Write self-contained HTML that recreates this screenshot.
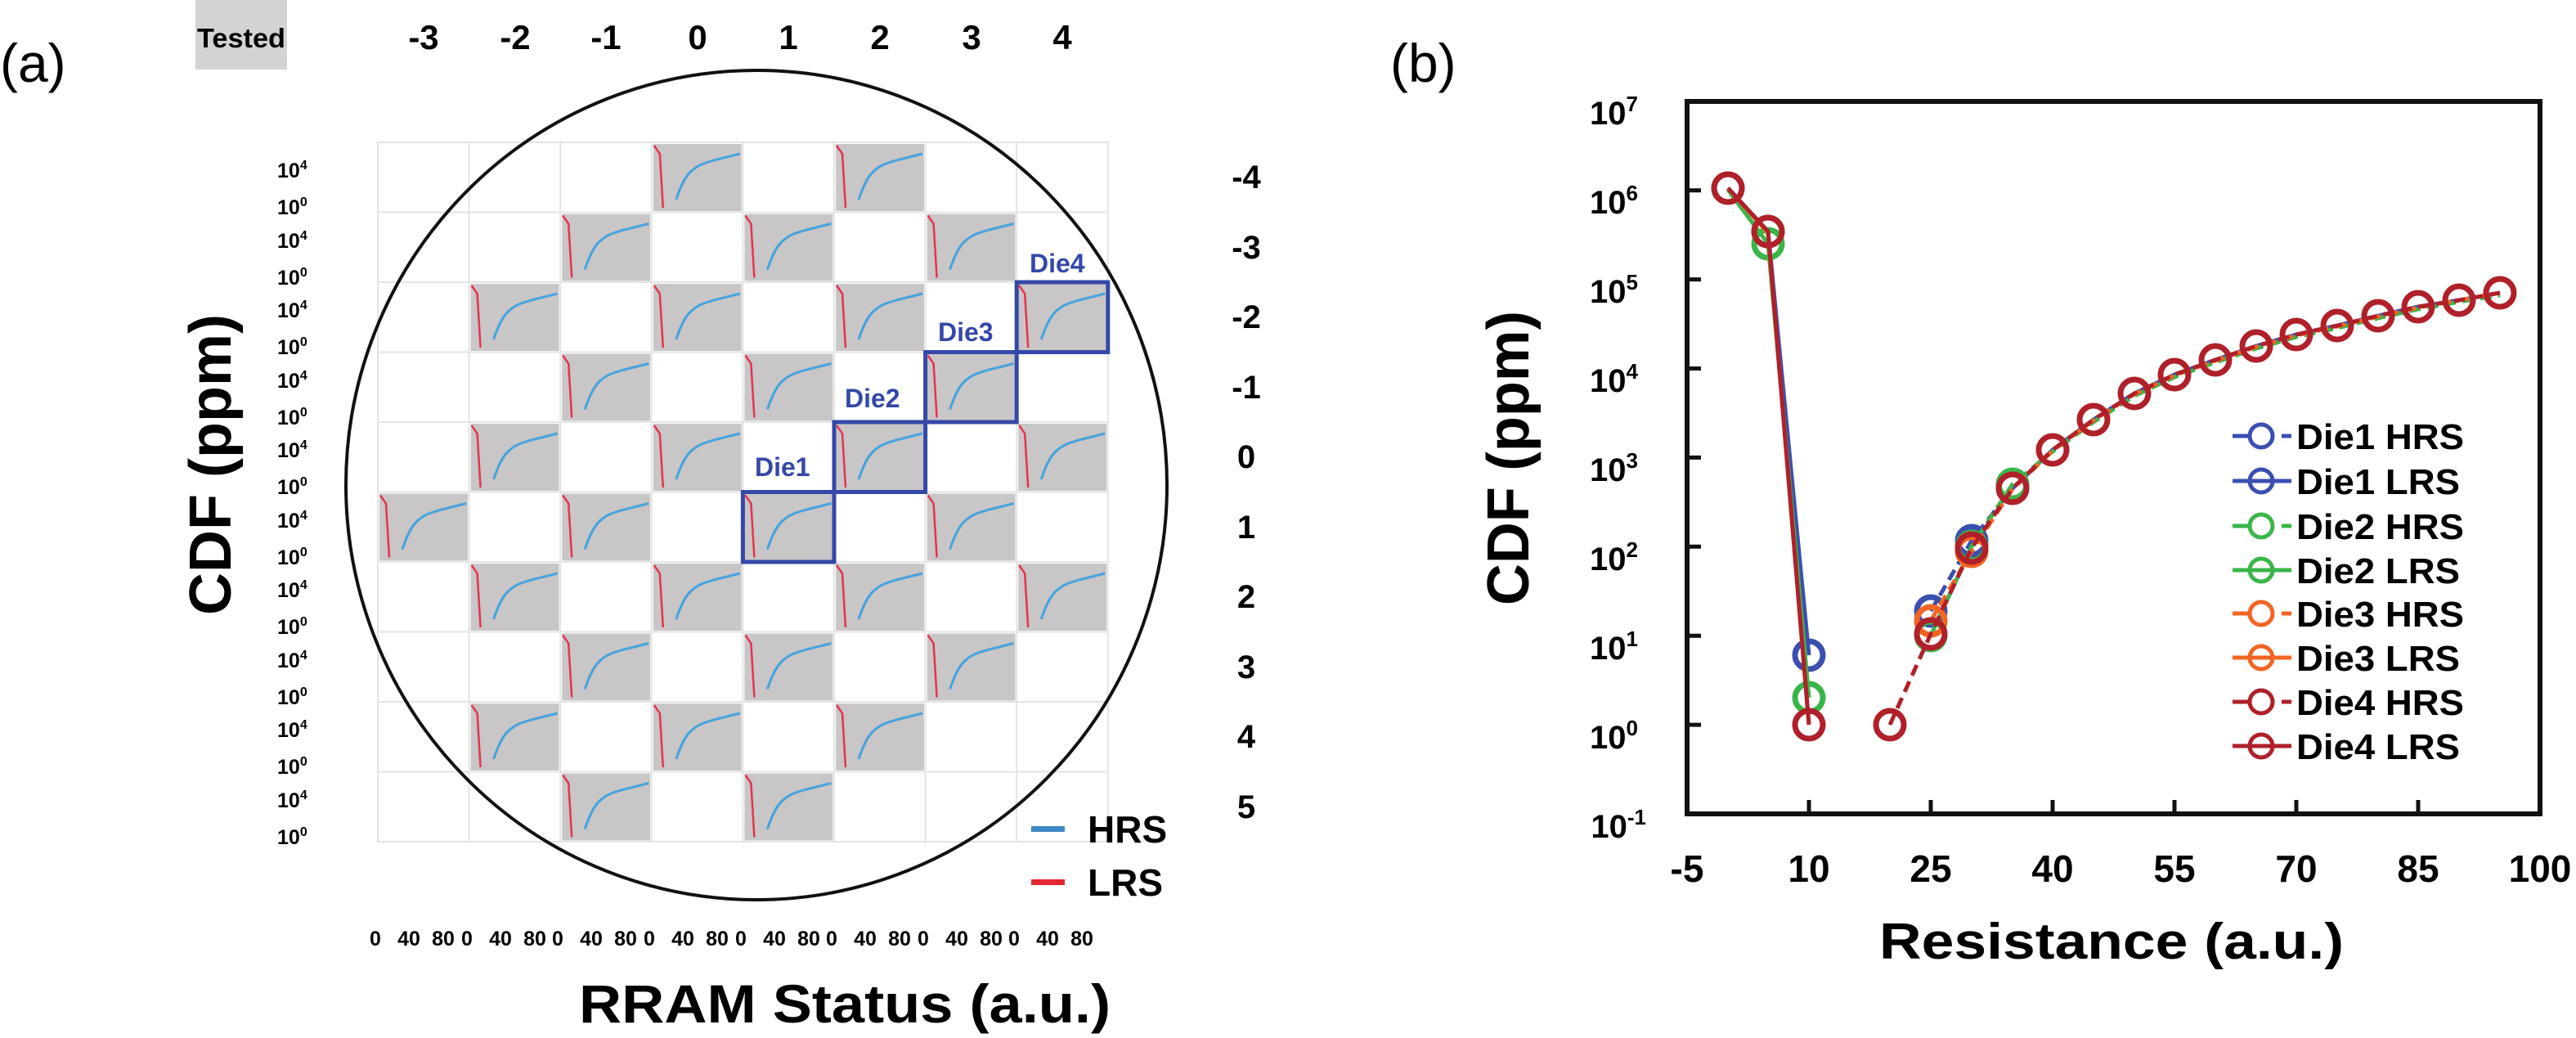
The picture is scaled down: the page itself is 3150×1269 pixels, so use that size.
<!DOCTYPE html>
<html><head><meta charset="utf-8"><style>
html,body{margin:0;padding:0;background:#fff;}
svg{display:block;font-family:"Liberation Sans",Arial,sans-serif;}
</style></head><body>
<svg width="3150" height="1269" viewBox="0 0 3150 1269" xmlns="http://www.w3.org/2000/svg">
<defs>
<g id="m">
<rect x="2" y="2" width="108" height="82" fill="#c8c6c7"/>
<polyline points="3,4 10,14 14,80" fill="none" stroke="#e5334f" stroke-width="2.5"/>
<path d="M30,70 C36,52 42,40 50,34 C58,27 66,25 76,22 L108,14" fill="none" stroke="#47a3dd" stroke-width="3"/>
</g>
</defs>

<text x="0" y="100" font-size="66">(a)</text>
<rect x="239" y="0" width="112" height="85" fill="#d3d3d3"/>
<text x="295" y="58" font-size="33" font-weight="bold" text-anchor="middle" textLength="108" lengthAdjust="spacingAndGlyphs">Tested</text>

<g font-size="42" font-weight="bold" text-anchor="middle">
<text x="518" y="60">-3</text><text x="630" y="60">-2</text><text x="741" y="60">-1</text><text x="853" y="60">0</text>
<text x="964" y="60">1</text><text x="1076" y="60">2</text><text x="1188" y="60">3</text><text x="1299" y="60">4</text>
</g>
<g font-size="40" font-weight="bold" text-anchor="middle">
<text x="1524" y="230">-4</text><text x="1524" y="316">-3</text><text x="1524" y="401">-2</text><text x="1524" y="487">-1</text>
<text x="1524" y="572">0</text><text x="1524" y="658">1</text><text x="1524" y="743">2</text><text x="1524" y="829">3</text>
<text x="1524" y="914">4</text><text x="1524" y="1000">5</text>
</g>

<g stroke="#e4e4e4" stroke-width="2" fill="none">
<rect x="462" y="174" width="892.8" height="855"/>
<line x1="573.6" y1="174" x2="573.6" y2="1029"/><line x1="685.2" y1="174" x2="685.2" y2="1029"/>
<line x1="796.8" y1="174" x2="796.8" y2="1029"/><line x1="908.4" y1="174" x2="908.4" y2="1029"/>
<line x1="1020" y1="174" x2="1020" y2="1029"/><line x1="1131.6" y1="174" x2="1131.6" y2="1029"/>
<line x1="1243.2" y1="174" x2="1243.2" y2="1029"/>
<line x1="462" y1="259.5" x2="1354.8" y2="259.5"/><line x1="462" y1="345" x2="1354.8" y2="345"/>
<line x1="462" y1="430.5" x2="1354.8" y2="430.5"/><line x1="462" y1="516" x2="1354.8" y2="516"/>
<line x1="462" y1="601.5" x2="1354.8" y2="601.5"/><line x1="462" y1="687" x2="1354.8" y2="687"/>
<line x1="462" y1="772.5" x2="1354.8" y2="772.5"/><line x1="462" y1="858" x2="1354.8" y2="858"/>
<line x1="462" y1="943.5" x2="1354.8" y2="943.5"/>
</g>
<use href="#m" x="796.8" y="174"/><use href="#m" x="1020" y="174"/>
<use href="#m" x="685.2" y="259.5"/><use href="#m" x="908.4" y="259.5"/><use href="#m" x="1131.6" y="259.5"/>
<use href="#m" x="573.6" y="345"/><use href="#m" x="796.8" y="345"/><use href="#m" x="1020" y="345"/><use href="#m" x="1243.2" y="345"/>
<use href="#m" x="685.2" y="430.5"/><use href="#m" x="908.4" y="430.5"/><use href="#m" x="1131.6" y="430.5"/>
<use href="#m" x="573.6" y="516"/><use href="#m" x="796.8" y="516"/><use href="#m" x="1020" y="516"/><use href="#m" x="1243.2" y="516"/>
<use href="#m" x="462" y="601.5"/><use href="#m" x="685.2" y="601.5"/><use href="#m" x="908.4" y="601.5"/><use href="#m" x="1131.6" y="601.5"/>
<use href="#m" x="573.6" y="687"/><use href="#m" x="796.8" y="687"/><use href="#m" x="1020" y="687"/><use href="#m" x="1243.2" y="687"/>
<use href="#m" x="685.2" y="772.5"/><use href="#m" x="908.4" y="772.5"/><use href="#m" x="1131.6" y="772.5"/>
<use href="#m" x="573.6" y="858"/><use href="#m" x="796.8" y="858"/><use href="#m" x="1020" y="858"/>
<use href="#m" x="685.2" y="943.5"/><use href="#m" x="908.4" y="943.5"/>

<ellipse cx="925" cy="593" rx="502" ry="507" fill="none" stroke="#111" stroke-width="4"/>

<g fill="none" stroke="#3548a8" stroke-width="5">
<rect x="908.4" y="601.5" width="111.6" height="85.5"/>
<rect x="1020" y="516" width="111.6" height="85.5"/>
<rect x="1131.6" y="430.5" width="111.6" height="85.5"/>
<rect x="1243.2" y="345" width="111.6" height="85.5"/>
</g>
<g fill="#3548a8" font-size="32" font-weight="bold">
<text x="923" y="582">Die1</text><text x="1033" y="498">Die2</text>
<text x="1147" y="417">Die3</text><text x="1259" y="333">Die4</text>
</g>

<g font-size="25" font-weight="bold">
<text x="339" y="217">10<tspan dy="-10" font-size="16">4</tspan></text><text x="339" y="262">10<tspan dy="-10" font-size="16">0</tspan></text>
<text x="339" y="303">10<tspan dy="-10" font-size="16">4</tspan></text><text x="339" y="348">10<tspan dy="-10" font-size="16">0</tspan></text>
<text x="339" y="388">10<tspan dy="-10" font-size="16">4</tspan></text><text x="339" y="433">10<tspan dy="-10" font-size="16">0</tspan></text>
<text x="339" y="474">10<tspan dy="-10" font-size="16">4</tspan></text><text x="339" y="519">10<tspan dy="-10" font-size="16">0</tspan></text>
<text x="339" y="559">10<tspan dy="-10" font-size="16">4</tspan></text><text x="339" y="604">10<tspan dy="-10" font-size="16">0</tspan></text>
<text x="339" y="645">10<tspan dy="-10" font-size="16">4</tspan></text><text x="339" y="690">10<tspan dy="-10" font-size="16">0</tspan></text>
<text x="339" y="730">10<tspan dy="-10" font-size="16">4</tspan></text><text x="339" y="775">10<tspan dy="-10" font-size="16">0</tspan></text>
<text x="339" y="816">10<tspan dy="-10" font-size="16">4</tspan></text><text x="339" y="861">10<tspan dy="-10" font-size="16">0</tspan></text>
<text x="339" y="901">10<tspan dy="-10" font-size="16">4</tspan></text><text x="339" y="946">10<tspan dy="-10" font-size="16">0</tspan></text>
<text x="339" y="987">10<tspan dy="-10" font-size="16">4</tspan></text><text x="339" y="1032">10<tspan dy="-10" font-size="16">0</tspan></text>
</g>
<g font-size="25" font-weight="bold" text-anchor="middle">
<text x="459" y="1156">0</text><text x="500" y="1156">40</text><text x="542" y="1156">80</text>
<text x="571" y="1156">0</text><text x="612" y="1156">40</text><text x="654" y="1156">80</text>
<text x="682" y="1156">0</text><text x="723" y="1156">40</text><text x="765" y="1156">80</text>
<text x="794" y="1156">0</text><text x="835" y="1156">40</text><text x="877" y="1156">80</text>
<text x="906" y="1156">0</text><text x="947" y="1156">40</text><text x="989" y="1156">80</text>
<text x="1017" y="1156">0</text><text x="1058" y="1156">40</text><text x="1100" y="1156">80</text>
<text x="1129" y="1156">0</text><text x="1170" y="1156">40</text><text x="1212" y="1156">80</text>
<text x="1240" y="1156">0</text><text x="1281" y="1156">40</text><text x="1323" y="1156">80</text>
</g>
<rect x="1261" y="1010" width="41" height="7" fill="#3f88c8"/>
<rect x="1261" y="1075" width="41" height="7" fill="#e42630"/>
<text x="1330" y="1030" font-size="46" font-weight="bold">HRS</text>
<text x="1330" y="1095" font-size="46" font-weight="bold">LRS</text>

<text x="1033" y="1250" font-size="66" font-weight="bold" text-anchor="middle" textLength="650" lengthAdjust="spacingAndGlyphs">RRAM Status (a.u.)</text>
<text transform="translate(282,568) rotate(-90)" font-size="72" font-weight="bold" text-anchor="middle" textLength="368" lengthAdjust="spacingAndGlyphs">CDF (ppm)</text>

<text x="1700" y="100" font-size="66">(b)</text>
<text transform="translate(1869,560) rotate(-90)" font-size="72" font-weight="bold" text-anchor="middle" textLength="360" lengthAdjust="spacingAndGlyphs">CDF (ppm)</text>

<g stroke="#111" stroke-width="6" fill="none">
<rect x="2063" y="124" width="1043" height="871"/>
</g>
<g stroke="#111" stroke-width="5">
<line x1="2063" y1="232.7" x2="2080" y2="232.7"/><line x1="2063" y1="341.6" x2="2080" y2="341.6"/>
<line x1="2063" y1="450.5" x2="2080" y2="450.5"/><line x1="2063" y1="559.4" x2="2080" y2="559.4"/>
<line x1="2063" y1="668.3" x2="2080" y2="668.3"/><line x1="2063" y1="777.2" x2="2080" y2="777.2"/>
<line x1="2063" y1="886.1" x2="2080" y2="886.1"/>
<line x1="2212" y1="995" x2="2212" y2="978"/><line x1="2361" y1="995" x2="2361" y2="978"/>
<line x1="2510" y1="995" x2="2510" y2="978"/><line x1="2659" y1="995" x2="2659" y2="978"/>
<line x1="2808" y1="995" x2="2808" y2="978"/><line x1="2957" y1="995" x2="2957" y2="978"/>
</g>
<g font-size="40" font-weight="bold" text-anchor="end">
<text x="2003" y="152">10<tspan dy="-16" font-size="26">7</tspan></text>
<text x="2003" y="261">10<tspan dy="-16" font-size="26">6</tspan></text>
<text x="2003" y="370">10<tspan dy="-16" font-size="26">5</tspan></text>
<text x="2003" y="479">10<tspan dy="-16" font-size="26">4</tspan></text>
<text x="2003" y="588">10<tspan dy="-16" font-size="26">3</tspan></text>
<text x="2003" y="697">10<tspan dy="-16" font-size="26">2</tspan></text>
<text x="2003" y="806">10<tspan dy="-16" font-size="26">1</tspan></text>
<text x="2003" y="915">10<tspan dy="-16" font-size="26">0</tspan></text>
<text x="2013" y="1024">10<tspan dy="-16" font-size="26">-1</tspan></text>
</g>
<g font-size="46" font-weight="bold" text-anchor="middle">
<text x="2063" y="1078">-5</text><text x="2212" y="1078">10</text><text x="2361" y="1078">25</text>
<text x="2510" y="1078">40</text><text x="2659" y="1078">55</text><text x="2808" y="1078">70</text>
<text x="2957" y="1078">85</text><text x="3106" y="1078">100</text>
</g>
<text x="2582" y="1172" font-size="62" font-weight="bold" text-anchor="middle" textLength="568" lengthAdjust="spacingAndGlyphs">Resistance (a.u.)</text>

<g fill="none" stroke-width="7">
<g stroke="#3a4fb0">
<polyline stroke-width="5" points="2113,230 2162,283 2212,801"/>
<polyline stroke-width="5" stroke-dasharray="14 8" points="2361,747 2411,661 2461,597 2510,550 2560,513 2610,481 2659,458 2709,440 2759,423 2808,409 2858,398 2908,386 2957,375 3007,367 3057,358"/>
<circle cx="2113" cy="230" r="17"/><circle cx="2162" cy="283" r="17"/><circle cx="2212" cy="801" r="17"/>
<circle cx="2361" cy="747" r="17"/><circle cx="2411" cy="661" r="17"/>
</g>
<g stroke="#3ab54a">
<polyline stroke-width="5" points="2113,232 2162,298 2212,853"/>
<polyline stroke-width="5" stroke-dasharray="14 8" points="2361,777 2411,668 2461,592 2510,552 2560,516 2610,484 2659,461 2709,443 2759,426 2808,412 2858,401 2908,389 2957,378 3007,369 3057,361"/>
<circle cx="2162" cy="298" r="17"/><circle cx="2212" cy="853" r="17"/>
<circle cx="2361" cy="777" r="17"/><circle cx="2411" cy="668" r="17"/><circle cx="2461" cy="592" r="17"/>
</g>
<g stroke="#f26522">
<polyline stroke-width="5" points="2113,230 2162,285 2212,886"/>
<polyline stroke-width="5" stroke-dasharray="14 8" points="2361,759 2411,674 2461,598 2510,551 2560,514 2610,482 2659,459 2709,441 2759,424 2808,410 2858,399 2908,387 2957,376 3007,367 3057,358"/>
<circle cx="2361" cy="759" r="17"/><circle cx="2411" cy="674" r="17"/>
</g>
<g stroke="#b0202a">
<polyline stroke-width="5" points="2113,230 2162,283 2212,886"/>
<polyline stroke-width="5" stroke-dasharray="14 8" points="2311,886 2361,775 2411,670 2461,597 2510,550 2560,513 2610,481 2659,458 2709,440 2759,423 2808,409 2858,398 2908,386 2957,375 3007,367 3057,358"/>
<circle cx="2113" cy="230" r="17"/><circle cx="2162" cy="283" r="17"/><circle cx="2212" cy="886" r="17"/>
<circle cx="2311" cy="886" r="17"/><circle cx="2361" cy="775" r="17"/><circle cx="2411" cy="670" r="17"/>
<circle cx="2461" cy="597" r="17"/><circle cx="2510" cy="550" r="17"/><circle cx="2560" cy="513" r="17"/>
<circle cx="2610" cy="481" r="17"/><circle cx="2659" cy="458" r="17"/><circle cx="2709" cy="440" r="17"/>
<circle cx="2759" cy="423" r="17"/><circle cx="2808" cy="409" r="17"/><circle cx="2858" cy="398" r="17"/>
<circle cx="2908" cy="386" r="17"/><circle cx="2957" cy="375" r="17"/><circle cx="3007" cy="367" r="17"/>
<circle cx="3057" cy="358" r="17"/>
</g>
</g>

<g fill="none" stroke-width="5">
<g stroke="#3a4fb0"><line x1="2730" y1="533" x2="2750" y2="533"/><line x1="2790" y1="533" x2="2802" y2="533"/><circle cx="2765" cy="533" r="14"/></g>
<g stroke="#3a4fb0"><line x1="2730" y1="588" x2="2802" y2="588"/><circle cx="2765" cy="588" r="14"/></g>
<g stroke="#3ab54a"><line x1="2730" y1="643" x2="2750" y2="643"/><line x1="2790" y1="643" x2="2802" y2="643"/><circle cx="2765" cy="643" r="14"/></g>
<g stroke="#3ab54a"><line x1="2730" y1="697" x2="2802" y2="697"/><circle cx="2765" cy="697" r="14"/></g>
<g stroke="#f26522"><line x1="2730" y1="750" x2="2750" y2="750"/><line x1="2790" y1="750" x2="2802" y2="750"/><circle cx="2765" cy="750" r="14"/></g>
<g stroke="#f26522"><line x1="2730" y1="804" x2="2802" y2="804"/><circle cx="2765" cy="804" r="14"/></g>
<g stroke="#b0202a"><line x1="2730" y1="858" x2="2750" y2="858"/><line x1="2790" y1="858" x2="2802" y2="858"/><circle cx="2765" cy="858" r="14"/></g>
<g stroke="#b0202a"><line x1="2730" y1="912" x2="2802" y2="912"/><circle cx="2765" cy="912" r="14"/></g>
</g>
<g font-size="44" font-weight="bold">
<text x="2808" y="549" textLength="205" lengthAdjust="spacingAndGlyphs">Die1 HRS</text>
<text x="2808" y="604" textLength="200" lengthAdjust="spacingAndGlyphs">Die1 LRS</text>
<text x="2808" y="659" textLength="205" lengthAdjust="spacingAndGlyphs">Die2 HRS</text>
<text x="2808" y="713" textLength="200" lengthAdjust="spacingAndGlyphs">Die2 LRS</text>
<text x="2808" y="766" textLength="205" lengthAdjust="spacingAndGlyphs">Die3 HRS</text>
<text x="2808" y="820" textLength="200" lengthAdjust="spacingAndGlyphs">Die3 LRS</text>
<text x="2808" y="874" textLength="205" lengthAdjust="spacingAndGlyphs">Die4 HRS</text>
<text x="2808" y="928" textLength="200" lengthAdjust="spacingAndGlyphs">Die4 LRS</text>
</g>
</svg>
</body></html>
